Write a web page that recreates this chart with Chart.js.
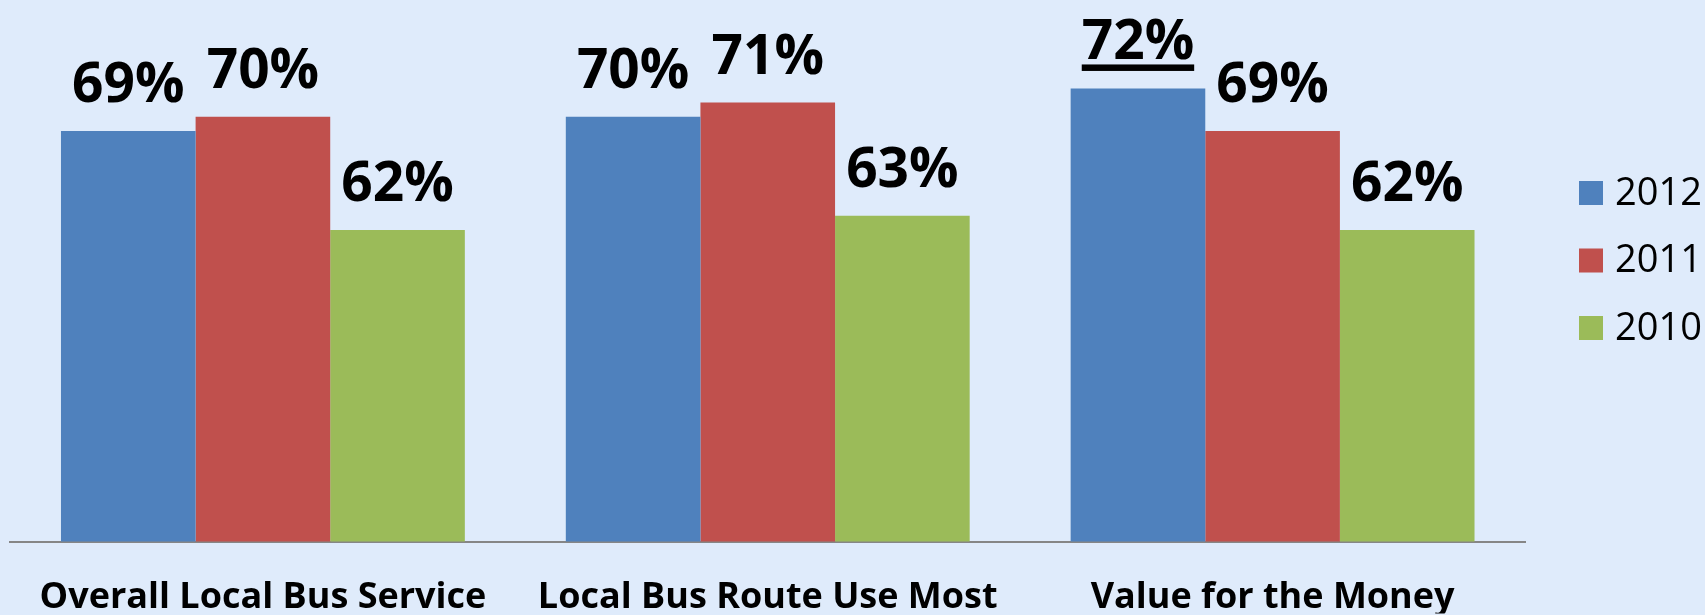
<!DOCTYPE html>
<html>
<head>
<meta charset="utf-8">
<script src="https://cdn.jsdelivr.net/npm/chart.js@4.4.1/dist/chart.umd.min.js"></script>
<style>
  html, body { margin: 0; padding: 0; background: #dfebfb; }
  #wrap { width: 1705px; height: 615px; }
</style>
</head>
<body>
<div id="wrap"><canvas id="bus-chart" width="1705" height="615"></canvas></div>
<script>
const CATEGORIES = ["Overall Local Bus Service", "Local Bus Route Use Most", "Value for the Money"];
const YEARS = ["2012", "2011", "2010"];
const VALUES_2012 = [69, 70, 72];
const VALUES_2011 = [70, 71, 69];
const VALUES_2010 = [62, 63, 62];
const Y_MIN = 40;
const Y_MAX = 78;

const SERIES_COLORS = ["#4f81bd", "#c0504d", "#9bbb59"];
const FONT = "'Open Sans', 'Liberation Sans', sans-serif";

// percent labels above each bar; the top score gets underlined
const barLabels = {
  id: "barLabels",
  afterDatasetsDraw(chart) {
    const { ctx } = chart;
    const all = chart.data.datasets.flatMap(ds => ds.data);
    const top = Math.max(...all);
    ctx.save();
    ctx.font = `bold 55px ${FONT}`;
    ctx.fillStyle = "#000";
    ctx.textAlign = "center";
    ctx.textBaseline = "alphabetic";
    chart.data.datasets.forEach((ds, i) => {
      const meta = chart.getDatasetMeta(i);
      meta.data.forEach((bar, j) => {
        const v = ds.data[j];
        const text = `${v}%`;
        const baseY = bar.y - 29;
        ctx.fillText(text, bar.x, baseY);
        if (v === top) {
          const w = ctx.measureText(text).width;
          ctx.fillRect(bar.x - w / 2, baseY + 5, w, 6.5);
        }
      });
    });
    ctx.restore();
  },
};

// legend drawn in the space kept free on the right
const sideLegend = {
  id: "sideLegend",
  afterDraw(chart) {
    const { ctx, chartArea } = chart;
    const box = 24;
    const x = chartArea.right + 54;
    const mid = (chartArea.top + chartArea.bottom) / 2 - 12;
    const step = 67.5;
    ctx.save();
    ctx.font = `38px ${FONT}`;
    ctx.textBaseline = "middle";
    ctx.textAlign = "left";
    chart.data.datasets.forEach((ds, i) => {
      const cy = mid + (i - 1) * step;
      ctx.fillStyle = ds.backgroundColor;
      ctx.fillRect(x, cy - box / 2, box, box);
      ctx.fillStyle = "#000";
      ctx.fillText(ds.label, x + box + 12, cy + 1);
    });
    ctx.restore();
  },
};

const datasets = [VALUES_2012, VALUES_2011, VALUES_2010].map((data, i) => ({
  label: YEARS[i],
  data,
  backgroundColor: SERIES_COLORS[i],
  borderWidth: 0,
  categoryPercentage: 0.8,
  barPercentage: 1.0,
}));

new Chart(document.getElementById("bus-chart"), {
  type: "bar",
  data: { labels: CATEGORIES, datasets },
  options: {
    responsive: false,
    devicePixelRatio: 1,
    animation: false,
    layout: { padding: { left: 9, right: 180, top: 3.5, bottom: 1.5 } },
    plugins: {
      legend: { display: false },
      tooltip: { enabled: false },
    },
    scales: {
      x: {
        grid: { display: false, drawTicks: false },
        border: { display: true, color: "#868686", width: 2 },
        ticks: {
          color: "#000",
          padding: 38,
          font: { family: FONT, size: 36, weight: "bold", lineHeight: 1.0 },
        },
        afterFit(scale) { scale.height = 72; },
      },
      y: {
        display: false,
        min: Y_MIN,
        max: Y_MAX,
      },
    },
  },
  plugins: [barLabels, sideLegend],
});
</script>
</body>
</html>
